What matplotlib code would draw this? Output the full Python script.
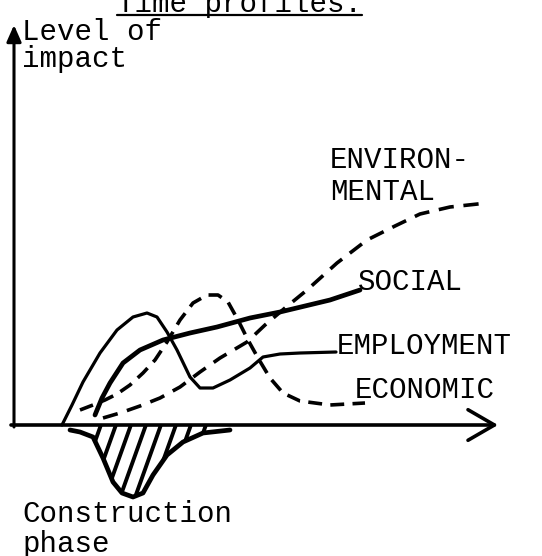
import matplotlib
matplotlib.use("Agg")
from matplotlib import pyplot as plt

plt.rcParams['font.family'] = ['Liberation Mono', 'DejaVu Sans Mono']
plt.rcParams['lines.scale_dashes'] = False
plt.rcParams['lines.solid_capstyle'] = 'round'
plt.rcParams['lines.solid_joinstyle'] = 'round'

# time (along the axis) vs level of impact
employment_t = [48, 58, 69, 86, 103, 119, 133, 143, 153, 163, 176, 186, 199, 216, 236, 249, 266, 286, 322]
employment_v = [0, 20, 43, 72, 95, 108, 112, 108, 93, 75, 48, 37, 37, 45, 57, 68, 71, 72, 73]

social_t = [81, 88, 96, 109, 126, 149, 176, 203, 236, 266, 316, 346]
social_v = [10, 27, 42, 62, 75, 85, 92, 98, 107, 113, 125, 135]

economic_t = [66, 79, 91, 103, 116, 129, 141, 153, 166, 179, 193, 204, 214, 224, 234, 244, 256, 269, 286, 316, 351]
economic_v = [15, 20, 25, 31, 40, 52, 65, 83, 105, 122, 130, 130, 123, 105, 85, 67, 47, 32, 24, 20, 22]

environ_t = [89, 106, 126, 146, 166, 186, 206, 233, 251, 271, 293, 323, 353, 381, 406, 436, 473]
environ_v = [7, 12, 19, 27, 38, 53, 67, 83, 100, 117, 135, 162, 185, 199, 211, 218, 222]

# construction phase, drawn below the time axis
construct_t = [56, 66, 79, 89, 99, 108, 119, 129, 139, 153, 169, 189, 216]
construct_v = [-5, -7, -12, -33, -57, -68, -72, -68, -50, -30, -17, -8, -5]

fs = 21

fig = plt.figure(figsize=(5.42, 5.56), dpi=100)
ax = fig.add_axes([0, 0, 1, 1])
ax.set_xlim(-14, 528)
ax.set_ylim(-131, 425)
ax.axis('off')

# axes drawn as arrows
ax.annotate('', xy=(0, 400), xytext=(0, -2),
            arrowprops=dict(arrowstyle='-|>,head_length=0.5,head_width=0.22',
                            lw=2.2, color='black', mutation_scale=20,
                            shrinkA=0, shrinkB=0))
ax.annotate('', xy=(484, 0), xytext=(-3, 0),
            arrowprops=dict(arrowstyle='->,head_length=0.95,head_width=0.55',
                            lw=2.6, color='black', mutation_scale=20,
                            shrinkA=0, shrinkB=0))

ax.plot(employment_t, employment_v, color='black', lw=2.3)
ax.plot(social_t, social_v, color='black', lw=3.4)
ax.plot(economic_t, economic_v, color='black', lw=2.6, linestyle=(0, (10, 6)))
ax.plot(environ_t, environ_v, color='black', lw=2.6, linestyle=(0, (11, 7)))

# hatched construction phase: steep strokes clipped to the area
area = ax.fill_between(construct_t, 0, construct_v, facecolor='none', linewidth=0)
clip = area.get_paths()[0]
for top in range(84, 200, 15):
    stroke, = ax.plot([top + 4, top - 30], [3, -92], color='black', lw=2.8,
                      solid_capstyle='butt')
    stroke.set_clip_path(clip, ax.transData)
ax.plot(construct_t, construct_v, color='black', lw=3.4)

# labels
title = ax.text(103, 413, 'Time profiles:', fontsize=fs, va='baseline')
ax.text(8, 385, 'Level of', fontsize=fs, va='baseline')
ax.text(8, 358, 'impact', fontsize=fs, va='baseline')
ax.text(316, 257, 'ENVIRON-', fontsize=fs, va='baseline')
ax.text(316, 225, 'MENTAL', fontsize=fs, va='baseline')
ax.text(344, 135, 'SOCIAL', fontsize=fs, va='baseline')
ax.text(323, 71, 'EMPLOYMENT', fontsize=fs, va='baseline')
ax.text(341, 27, 'ECONOMIC', fontsize=fs, va='baseline')
ax.text(8, -97, 'Construction', fontsize=fs, va='baseline')
ax.text(8, -127, 'phase', fontsize=fs, va='baseline')

# underline the title
fig.canvas.draw()
bb = title.get_window_extent()
x0 = ax.transData.inverted().transform((bb.x0, 0))[0]
x1 = ax.transData.inverted().transform((bb.x1, 0))[0]
ax.plot([x0, x1], [410, 410], color='black', lw=1.6)

fig.savefig('out.png', dpi=100)
